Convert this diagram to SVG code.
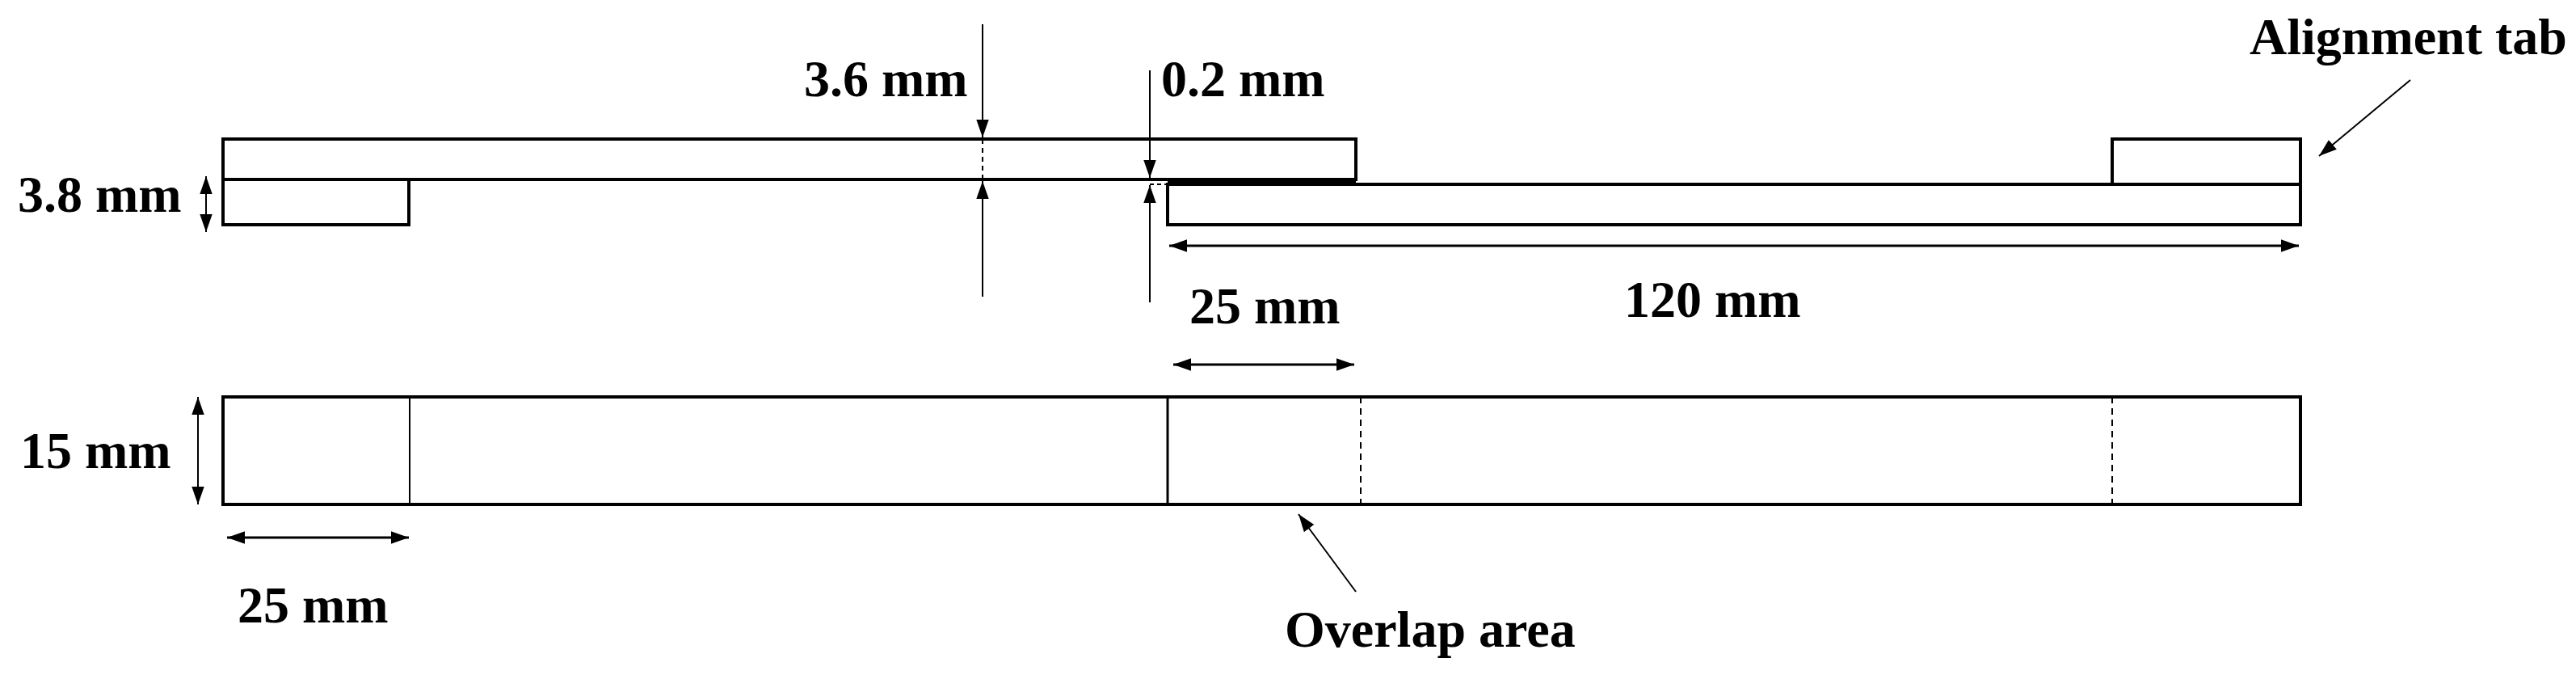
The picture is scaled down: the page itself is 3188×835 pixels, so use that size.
<svg xmlns="http://www.w3.org/2000/svg" width="3188" height="835" viewBox="0 0 3188 835">
<style>
.s{fill:none;stroke:#000;stroke-width:4}
.d{fill:none;stroke:#000;stroke-width:2}
.t{font-family:"Liberation Serif",serif;font-weight:bold;font-size:64px;fill:#000}
</style>
<defs>
<marker id="b" viewBox="0 0 10 10" refX="10" refY="5" markerWidth="22" markerHeight="22" markerUnits="userSpaceOnUse" orient="auto-start-reverse"><path d="M0,1.5 L10,5 L0,8.5 z" fill="#000"/></marker>
</defs>
<rect width="3188" height="835" fill="#fff"/>
<g id="side-view">
<rect id="upper-adherend" class="s" x="276" y="172" width="1402" height="50"/>
<rect id="left-tab" class="s" x="276" y="222" width="230" height="56"/>
<rect id="adhesive" x="1445" y="222" width="233" height="6" fill="#000"/>
<rect id="lower-adherend" class="s" x="1445" y="228" width="1402" height="50"/>
<rect id="right-tab" class="s" x="2614" y="172" width="233" height="56"/>
<line class="d" x1="1216" y1="172" x2="1216" y2="222" stroke-dasharray="6,5"/>
<line class="d" x1="1423" y1="228" x2="1445" y2="228" stroke-dasharray="5,4"/>
</g>
<g id="top-view">
<rect id="strip" class="s" x="276" y="491" width="2571" height="133"/>
<line class="d" x1="507" y1="491" x2="507" y2="624"/>
<line class="s" x1="1445" y1="491" x2="1445" y2="624" style="stroke-width:3"/>
<line class="d" x1="1684" y1="491" x2="1684" y2="624" stroke-dasharray="8,6"/>
<line class="d" x1="2614" y1="491" x2="2614" y2="624" stroke-dasharray="8,6"/>
</g>
<g id="connectors">
<line class="d" x1="1216" y1="30" x2="1216" y2="170" marker-end="url(#b)"/>
<line class="d" x1="1216" y1="367" x2="1216" y2="224" marker-end="url(#b)"/>
<line class="d" x1="1423" y1="87" x2="1423" y2="220" marker-end="url(#b)"/>
<line class="d" x1="1423" y1="374" x2="1423" y2="229" marker-end="url(#b)"/>
<line class="d" x1="255" y1="218" x2="255" y2="287" marker-start="url(#b)" marker-end="url(#b)"/>
<line class="d" x1="1447" y1="304" x2="2845" y2="304" marker-start="url(#b)" marker-end="url(#b)" style="stroke-width:3"/>
<line class="d" x1="2983" y1="99" x2="2870" y2="193" marker-end="url(#b)" stroke="#333"/>
<line class="d" x1="245" y1="491" x2="245" y2="624" marker-start="url(#b)" marker-end="url(#b)"/>
<line class="d" x1="1452" y1="451" x2="1676" y2="451" marker-start="url(#b)" marker-end="url(#b)" style="stroke-width:3"/>
<line class="d" x1="281" y1="665" x2="506" y2="665" marker-start="url(#b)" marker-end="url(#b)" style="stroke-width:3"/>
<line class="d" x1="1678" y1="732" x2="1607" y2="636" marker-end="url(#b)"/>
</g>
<g id="labels">
<text class="t" x="995" y="119">3.6 mm</text>
<text class="t" x="1437" y="119">0.2 mm</text>
<text class="t" x="22" y="262">3.8 mm</text>
<text class="t" x="2784" y="67">Alignment tab</text>
<text class="t" x="2010" y="392">120 mm</text>
<text class="t" x="1472" y="400">25 mm</text>
<text class="t" x="25" y="579">15 mm</text>
<text class="t" x="294" y="770">25 mm</text>
<text class="t" x="1590" y="800">Overlap area</text>
</g>
</svg>
